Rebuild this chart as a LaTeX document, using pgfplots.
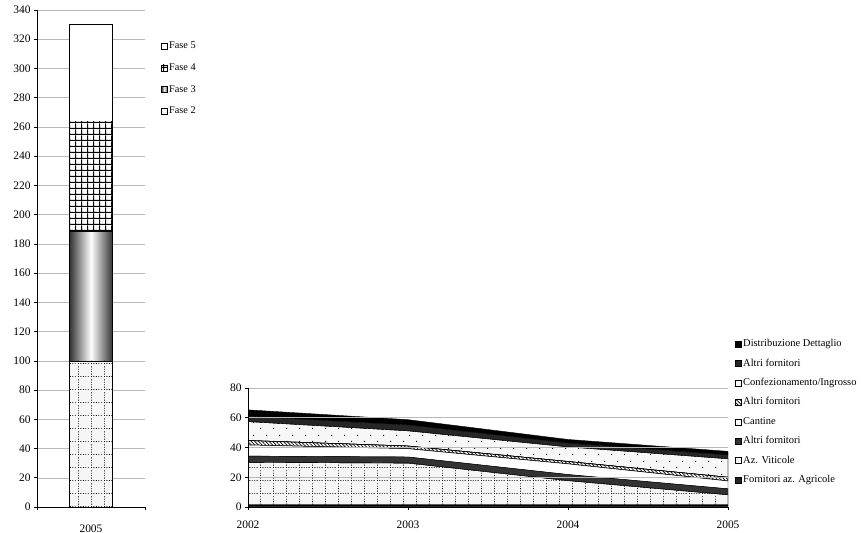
\documentclass[border=0pt]{standalone}
\usepackage{fontspec}
\setmainfont{Liberation Serif}
\usepackage{pgfplots}
\pgfplotsset{compat=1.18}
\usetikzlibrary{patterns,patterns.meta}

\pgfdeclarepatternformonly{dotgrid}{\pgfpointorigin}{\pgfpoint{13bp}{13bp}}{\pgfpoint{13bp}{13bp}}{%
  \pgfpathrectangle{\pgfpoint{0bp}{0bp}}{\pgfpoint{0.9bp}{0.9bp}}%
  \pgfpathrectangle{\pgfpoint{2.6bp}{0bp}}{\pgfpoint{0.9bp}{0.9bp}}%
  \pgfpathrectangle{\pgfpoint{5.2bp}{0bp}}{\pgfpoint{0.9bp}{0.9bp}}%
  \pgfpathrectangle{\pgfpoint{7.8bp}{0bp}}{\pgfpoint{0.9bp}{0.9bp}}%
  \pgfpathrectangle{\pgfpoint{10.4bp}{0bp}}{\pgfpoint{0.9bp}{0.9bp}}%
  \pgfpathrectangle{\pgfpoint{0bp}{2.6bp}}{\pgfpoint{0.9bp}{0.9bp}}%
  \pgfpathrectangle{\pgfpoint{0bp}{5.2bp}}{\pgfpoint{0.9bp}{0.9bp}}%
  \pgfpathrectangle{\pgfpoint{0bp}{7.8bp}}{\pgfpoint{0.9bp}{0.9bp}}%
  \pgfpathrectangle{\pgfpoint{0bp}{10.4bp}}{\pgfpoint{0.9bp}{0.9bp}}%
  \pgfusepath{fill}}

\pgfdeclarepatternformonly{sparsedots}{\pgfpointorigin}{\pgfpoint{13bp}{13bp}}{\pgfpoint{13bp}{13bp}}{%
  \pgfpathrectangle{\pgfpoint{0bp}{0bp}}{\pgfpoint{1.1bp}{1.1bp}}%
  \pgfpathrectangle{\pgfpoint{6.5bp}{6.5bp}}{\pgfpoint{1.1bp}{1.1bp}}%
  \pgfusepath{fill}}

\pgfdeclarepatternformonly{thickgrid}{\pgfpointorigin}{\pgfpoint{6.3bp}{6.3bp}}{\pgfpoint{6.3bp}{6.3bp}}{%
  \pgfpathrectangle{\pgfpoint{0bp}{0bp}}{\pgfpoint{6.3bp}{1.3bp}}%
  \pgfpathrectangle{\pgfpoint{0bp}{0bp}}{\pgfpoint{1.3bp}{6.3bp}}%
  \pgfusepath{fill}}

\pgfplotsset{
  sqleg/.style={legend image code/.code={\draw[##1, line width=0.5bp] (0bp,-3bp) rectangle (6bp,3bp);}},
  common/.style={
    scale only axis,
    axis x line*=bottom, axis y line*=left,
    axis line style={black, line width=0.8bp, -},
    tick align=outside, major tick length=3bp,
    tick style={black, line width=0.6bp},
    ymajorgrids, grid style={gray!55, line width=0.5bp},
    tick label style={font=\fontsize{11.5}{13}\selectfont},
    /pgf/number format/assume math mode=true,
    /pgf/number format/1000 sep={},
    xticklabel style={yshift=-7bp},
    legend cell align=left,
  }
}

\begin{document}
\begin{tikzpicture}
\useasboundingbox (0,0) rectangle (863bp,533bp);

% ---------- left stacked bar ----------
\begin{axis}[common,
  at={(37bp,26bp)}, anchor=south west,
  width=108bp, height=497bp,
  xmin=-0.5, xmax=0.5, ymin=0, ymax=340,
  ytick={0,20,...,340},
  xtick={-0.5,0.5}, xticklabels={},
  extra x ticks={0}, extra x tick labels={2005},
  extra x tick style={major tick length=0pt, xticklabel style={yshift=-7bp}},
  ybar stacked, bar width=0.4, bar shift=0pt,
  every axis plot post/.append style={sqleg},
  reverse legend,
  legend style={draw=none, fill=none, font=\fontsize{10.3}{11}\selectfont,
    at={(1.148,0.94)}, anchor=north west, inner sep=0pt, row sep=9.8bp,
    nodes={inner sep=1.5bp, text height=7bp, text depth=2bp}},
]
\addplot[draw=black, line width=0.5bp, fill=gray!7, postaction={pattern=dotgrid}] coordinates {(0,100)};
\addplot[draw=black, line width=0.5bp, left color=black!80, right color=black!80, middle color=white] coordinates {(0,88.5)};
\addplot[draw=black, line width=0.5bp, fill=white, postaction={pattern=thickgrid}] coordinates {(0,75)};
\addplot[draw=black, line width=0.5bp, fill=white] coordinates {(0,66.5)};
\legend{Fase 2, Fase 3, Fase 4, Fase 5}
\end{axis}

% ---------- right stacked area ----------
\begin{axis}[common,
  at={(248bp,26bp)}, anchor=south west,
  width=480bp, height=119bp,
  xmin=2002, xmax=2005, ymin=0, ymax=80,
  ytick={0,20,...,80}, xtick={2002,2003,2004,2005},
  stack plots=y, area style,
  every axis plot post/.append style={sqleg},
  reverse legend,
  legend style={draw=none, fill=none, font=\fontsize{10.5}{11}\selectfont,
    at={(1.0146,1.42)}, anchor=north west, inner sep=0pt, row sep=7.4bp,
    nodes={inner sep=1.5bp, text height=7bp, text depth=2bp}},
]
\addplot[draw=black, line width=0.4bp, fill=black!85] coordinates {(2002,1.5) (2003,1.5) (2004,1.5) (2005,1.5)} \closedcycle;
\addplot[draw=black, line width=0.4bp, fill=gray!7, postaction={pattern=dotgrid}] coordinates {(2002,28.5) (2003,28) (2004,16.2) (2005,6.7)} \closedcycle;
\addplot[draw=black, line width=0.4bp, fill=black!80] coordinates {(2002,4.2) (2003,4.1) (2004,4.1) (2005,4)} \closedcycle;
\addplot[draw=black, line width=0.5bp, fill=white] coordinates {(2002,7.5) (2003,5.6) (2004,7.2) (2005,5.3)} \closedcycle;
\addplot[draw=black, line width=0.5bp, fill=white, postaction={pattern={Lines[angle=-45,distance=2.5bp,line width=0.7bp]}}] coordinates {(2002,3) (2003,1.8) (2004,1.6) (2005,2.5)} \closedcycle;
\addplot[draw=black, line width=0.4bp, fill=gray!6, postaction={pattern=sparsedots}] coordinates {(2002,12.7) (2003,10.2) (2004,9.8) (2005,12.4)} \closedcycle;
\addplot[draw=black, line width=0.4bp, fill=black!85] coordinates {(2002,3.6) (2003,4) (2004,2.6) (2005,2.6)} \closedcycle;
\addplot[draw=black, line width=0.4bp, fill=black] coordinates {(2002,4.3) (2003,3.5) (2004,2.4) (2005,2.4)} \closedcycle;
\legend{Fornitori az. Agricole, Az. Viticole, Altri fornitori, Cantine, Altri fornitori, Confezionamento/Ingrosso, Altri fornitori, Distribuzione Dettaglio}
\end{axis}
\end{tikzpicture}
\end{document}
